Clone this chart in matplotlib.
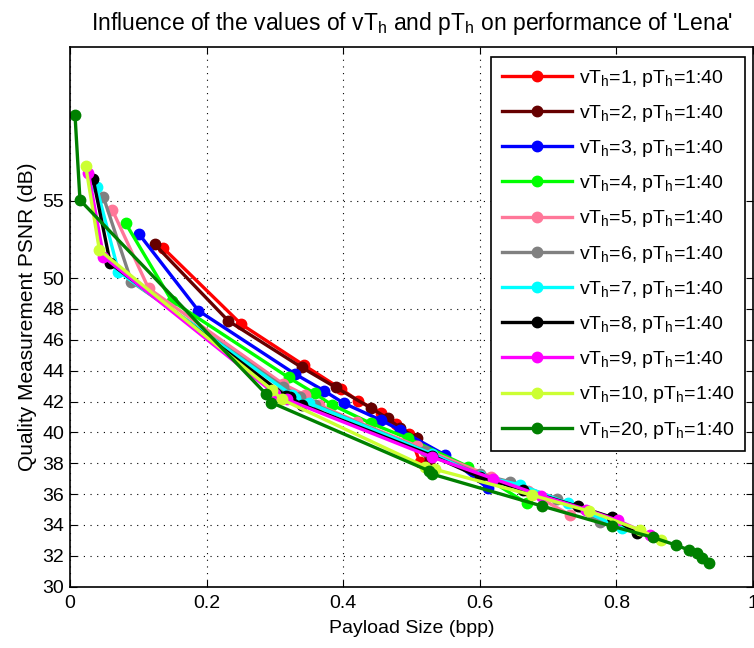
import matplotlib
matplotlib.use("Agg")
import matplotlib.pyplot as plt

plt.rcParams['font.family'] = ['Liberation Sans', 'DejaVu Sans']
plt.rcParams['mathtext.default'] = 'regular'

# ---------------- data ----------------
vth_values = [1, 2, 3, 4, 5, 6, 7, 8, 9, 10, 20]
pth_label = "1:40"

x_vt1 = [0.136, 0.251, 0.342, 0.397, 0.422, 0.456, 0.478, 0.497, 0.512]
y_vt1 = [51.97, 47.00, 44.37, 42.81, 42.05, 41.28, 40.55, 39.90, 38.10]

x_vt2 = [0.124, 0.232, 0.339, 0.389, 0.440, 0.465, 0.483, 0.508, 0.525]
y_vt2 = [52.19, 47.22, 44.22, 42.92, 41.60, 40.91, 40.30, 39.62, 38.00]

x_vt3 = [0.101, 0.188, 0.329, 0.372, 0.401, 0.455, 0.483, 0.549, 0.612]
y_vt3 = [52.86, 47.89, 43.80, 42.70, 41.89, 40.80, 40.16, 38.54, 36.38]

x_vt4 = [0.0815, 0.149, 0.320, 0.358, 0.383, 0.440, 0.495, 0.583, 0.669]
y_vt4 = [53.55, 48.53, 43.56, 42.53, 41.80, 40.60, 39.62, 37.78, 35.40]

x_vt5 = [0.062, 0.115, 0.312, 0.344, 0.364, 0.420, 0.508, 0.617, 0.670, 0.732]
y_vt5 = [54.41, 49.34, 43.14, 42.42, 41.78, 40.70, 39.12, 37.13, 36.20, 34.65]

x_vt6 = [0.049, 0.090, 0.312, 0.337, 0.359, 0.520, 0.600, 0.644, 0.713, 0.776]
y_vt6 = [55.24, 49.77, 42.96, 42.31, 41.78, 38.80, 37.30, 36.80, 35.70, 34.20]

x_vt7 = [0.039, 0.071, 0.325, 0.329, 0.350, 0.530, 0.600, 0.659, 0.729, 0.808]
y_vt7 = [55.88, 50.42, 42.42, 42.21, 41.90, 38.60, 37.20, 36.60, 35.40, 33.78]

x_vt8 = [0.034, 0.059, 0.316, 0.322, 0.340, 0.530, 0.600, 0.663, 0.744, 0.793, 0.830]
y_vt8 = [56.40, 50.96, 42.35, 42.27, 41.80, 38.50, 37.10, 36.30, 35.20, 34.50, 33.46]

x_vt9 = [0.027, 0.049, 0.300, 0.317, 0.530, 0.620, 0.690, 0.756, 0.802, 0.849]
y_vt9 = [56.83, 51.39, 42.50, 42.14, 38.40, 37.00, 35.90, 35.00, 34.30, 33.35]

x_vt10 = [0.023, 0.043, 0.296, 0.310, 0.520, 0.535, 0.676, 0.760, 0.835, 0.866]
y_vt10 = [57.27, 51.82, 42.75, 42.14, 37.78, 37.60, 35.94, 34.90, 33.67, 33.00]

x_vt20 = [0.0073, 0.0146, 0.287, 0.295, 0.525, 0.530, 0.691, 0.793, 0.853,
          0.887, 0.906, 0.918, 0.926, 0.935]
y_vt20 = [60.60, 55.06, 42.49, 41.93, 37.52, 37.30, 35.23, 33.93, 33.20,
          32.70, 32.38, 32.16, 31.88, 31.56]

xs = [x_vt1, x_vt2, x_vt3, x_vt4, x_vt5, x_vt6, x_vt7, x_vt8, x_vt9, x_vt10, x_vt20]
ys = [y_vt1, y_vt2, y_vt3, y_vt4, y_vt5, y_vt6, y_vt7, y_vt8, y_vt9, y_vt10, y_vt20]

colors = ['#ff0000', '#660000', '#0000ff', '#00ff00', '#ff7799', '#808080',
          '#00ffff', '#000000', '#ff00ff', '#ccff33', '#008000']

x_ticks = [0, 0.2, 0.4, 0.6, 0.8, 1]
x_tick_labels = ['0', '0.2', '0.4', '0.6', '0.8', '1']
y_ticks = [30, 32, 34, 36, 38, 40, 42, 44, 46, 48, 50, 55]

# ---------------- figure ----------------
W, H = 754, 648
fig = plt.figure(figsize=(W / 100, H / 100), dpi=100)
left, right, bottom, top = 70, 753, 648 - 586.7, 648 - 46.7
ax = fig.add_axes([left / W, bottom / H, (right - left) / W, (top - bottom) / H])

for xv, yv, c, vt in zip(xs, ys, colors, vth_values):
    ax.plot(xv, yv, '-o', color=c, lw=2.4, ms=7.5, mec=c, mfc=c,
            label=f'vT$_h$={vt}, pT$_h$={pth_label}')

ax.set_xlim(0, 1)
ax.set_ylim(30, 65)
ax.set_xticks(x_ticks)
ax.set_xticklabels(x_tick_labels)
ax.set_yticks(y_ticks)
ax.tick_params(direction='in', length=5, width=0.8, top=True, right=True,
               labelsize=14)
ax.tick_params(axis='x', pad=6)
ax.tick_params(axis='y', pad=4)
ax.grid(True, linestyle=(0, (1, 5)), color='black', linewidth=0.8)
for s in ax.spines.values():
    s.set_linewidth(1.2)

ax.set_xlabel('Payload Size (bpp)', fontsize=14, labelpad=6)
ax.set_ylabel('Quality Measurement PSNR (dB)', fontsize=15, labelpad=4)
ax.set_title("Influence of the values of vT$_h$ and pT$_h$ on performance of 'Lena'",
             fontsize=16.5, pad=12)

leg = ax.legend(loc='upper right', fontsize=14, handlelength=3.6,
                labelspacing=0.73, borderpad=0.55, handletextpad=0.35,
                fancybox=False, framealpha=1, edgecolor='black',
                bbox_to_anchor=(0.988, 0.981), borderaxespad=0)
leg.get_frame().set_linewidth(1.2)

fig.savefig('out.png', dpi=100)
